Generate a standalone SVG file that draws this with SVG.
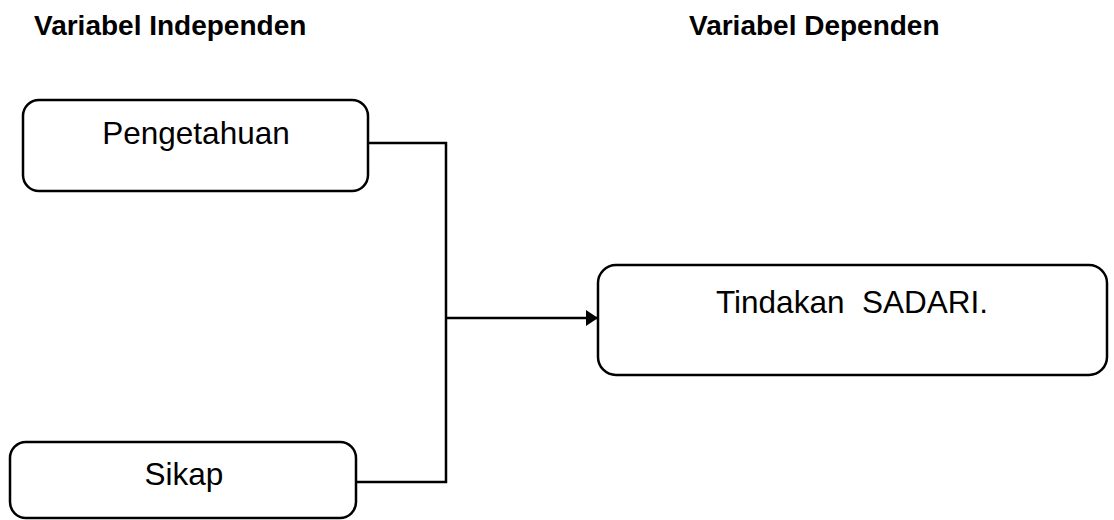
<svg xmlns="http://www.w3.org/2000/svg" width="1114" height="520" viewBox="0 0 1114 520">
<defs>
<style>
.box{fill:#fff;stroke:#000;stroke-width:2.5}
.lbl{font-family:"Liberation Sans",Arial,sans-serif;font-size:31.5px;fill:#000;text-anchor:middle}
.hdr{font-family:"Liberation Sans",Arial,sans-serif;font-size:28px;font-weight:bold;fill:#000}
.ln{fill:none;stroke:#000;stroke-width:2.5}
</style>
<marker id="arr" markerWidth="14" markerHeight="16" refX="12" refY="8" orient="auto" markerUnits="userSpaceOnUse">
<path d="M0,0 L12,8 L0,16 Z" fill="#000"/>
</marker>
</defs>
<rect width="1114" height="520" fill="#fff"/>
<g id="header-independen"><text class="hdr" x="34" y="35">Variabel Independen</text></g>
<g id="header-dependen"><text class="hdr" x="689" y="35">Variabel Dependen</text></g>
<g id="connectors">
<polyline class="ln" points="368,143 446,143 446,482 356,482"/>
<line class="ln" x1="446" y1="318" x2="598" y2="318" marker-end="url(#arr)"/>
</g>
<g id="node-pengetahuan">
<rect class="box" x="23" y="100" width="345" height="91" rx="16"/>
<text class="lbl" x="196" y="144">Pengetahuan</text>
</g>
<g id="node-sikap">
<rect class="box" x="10" y="442" width="346" height="76" rx="16"/>
<text class="lbl" x="184" y="485">Sikap</text>
</g>
<g id="node-tindakan">
<rect class="box" x="598" y="265" width="509" height="110" rx="18"/>
<text class="lbl" x="852" y="313" xml:space="preserve">Tindakan  SADARI.</text>
</g>
</svg>
